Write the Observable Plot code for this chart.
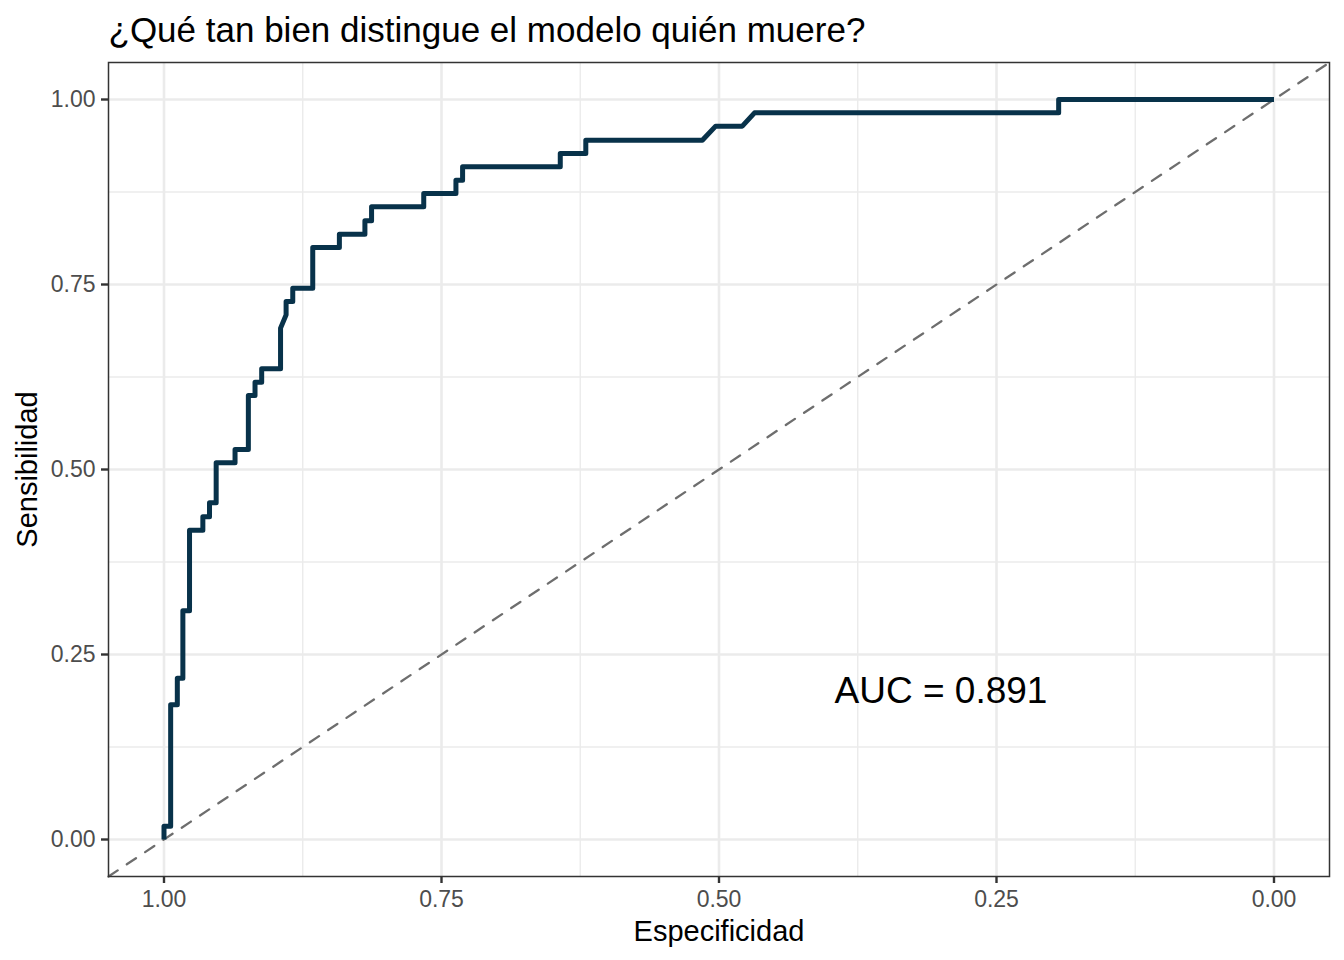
<!DOCTYPE html>
<html>
<head>
<meta charset="utf-8">
<script src="https://cdn.jsdelivr.net/npm/d3@7"></script>
<script src="https://cdn.jsdelivr.net/npm/@observablehq/plot@0.6"></script>
<style>
  html, body { margin: 0; padding: 0; background: #ffffff; }
  #chart svg { display: block; }
</style>
</head>
<body>
<div id="chart"></div>
<script>
// ROC curve vertices
const specificity = [
  1.000, 1.000, 0.994, 0.994, 0.988, 0.988, 0.983, 0.983, 0.977, 0.977,
  0.965, 0.965, 0.959, 0.959, 0.953, 0.953, 0.936, 0.936, 0.924, 0.924,
  0.918, 0.918, 0.912, 0.912, 0.895, 0.895, 0.890, 0.890, 0.884, 0.884,
  0.866, 0.866, 0.842, 0.842, 0.819, 0.819, 0.813, 0.813, 0.766, 0.766,
  0.737, 0.737, 0.731, 0.731, 0.643, 0.643, 0.620, 0.620, 0.515, 0.503,
  0.479, 0.468, 0.194, 0.194, 0.000
];
const sensitivity = [
  0.000, 0.018, 0.018, 0.182, 0.182, 0.218, 0.218, 0.309, 0.309, 0.418,
  0.418, 0.436, 0.436, 0.455, 0.455, 0.509, 0.509, 0.527, 0.527, 0.600,
  0.600, 0.618, 0.618, 0.636, 0.636, 0.691, 0.709, 0.727, 0.727, 0.745,
  0.745, 0.800, 0.800, 0.818, 0.818, 0.836, 0.836, 0.855, 0.855, 0.873,
  0.873, 0.891, 0.891, 0.909, 0.909, 0.927, 0.927, 0.945, 0.945, 0.964,
  0.964, 0.982, 0.982, 1.000, 1.000
];

const majorTicks = [0, 0.25, 0.5, 0.75, 1];
const minorTicks = [0.125, 0.375, 0.625, 0.875];
const xDomain = [1.05, -0.05];
const yDomain = [-0.05, 1.05];
const diagonalX = [1.05, -0.05];

const titleText = "¿Qué tan bien distingue el modelo quién muere?";
const xLabel = "Especificidad";
const yLabel = "Sensibilidad";
const aucLabel = ["AUC = 0.891"];
const aucPos = { x: 0.3, y: 0.2 };

const roc = specificity.map((s, i) => ({ spec: s, sens: sensitivity[i] }));
const diag = diagonalX.map(x => ({ x, y: 1 - x }));

const font = "'Liberation Sans', Arial, Helvetica, sans-serif";

const chart = Plot.plot({
  width: 1344,
  height: 960,
  marginLeft: 108,
  marginRight: 15,
  marginTop: 62,
  marginBottom: 84,
  style: { fontFamily: font, background: "#ffffff", color: "#000000" },
  x: { domain: xDomain, axis: null },
  y: { domain: yDomain, axis: null },
  marks: [
    // minor grid
    Plot.ruleX(minorTicks, { stroke: "#EBEBEB", strokeWidth: 1.4 }),
    Plot.ruleY(minorTicks, { stroke: "#EBEBEB", strokeWidth: 1.4 }),
    // major grid
    Plot.ruleX(majorTicks, { stroke: "#EBEBEB", strokeWidth: 2.6 }),
    Plot.ruleY(majorTicks, { stroke: "#EBEBEB", strokeWidth: 2.6 }),
    // diagonal reference
    Plot.line(diag, { x: "x", y: "y", stroke: "#6E6E6E", strokeWidth: 2.3, strokeDasharray: "11,11" }),
    // ROC curve
    Plot.line(roc, { x: "spec", y: "sens", stroke: "#08324A", strokeWidth: 5, strokeLinejoin: "round", strokeLinecap: "butt" }),
    // AUC annotation
    Plot.text(aucLabel, { x: () => aucPos.x, y: () => aucPos.y, text: d => d, fontSize: 37, fill: "#000000", textAnchor: "middle" }),
    // panel border
    Plot.frame({ stroke: "#333333", strokeWidth: 1.5 }),
    // axes
    Plot.axisX(majorTicks, { anchor: "bottom", tickSize: 7, tickPadding: 7, tickFormat: d3.format(".2f"), fontSize: 23, stroke: "#333333", fill: "#4D4D4D", strokeWidth: 2.4, label: null }),
    Plot.axisY(majorTicks, { anchor: "left", tickSize: 7, tickPadding: 6, tickFormat: d3.format(".2f"), fontSize: 23, stroke: "#333333", fill: "#4D4D4D", strokeWidth: 2.4, label: null }),
    // axis titles
    Plot.text([xLabel], { frameAnchor: "bottom", text: d => d, textAnchor: "middle", lineAnchor: "bottom", dy: 64, fontSize: 29, fill: "#000000" }),
    Plot.text([yLabel], { frameAnchor: "left", text: d => d, rotate: -90, textAnchor: "middle", lineAnchor: "bottom", dx: -72, fontSize: 29, fill: "#000000" }),
    // title
    Plot.text([titleText], { frameAnchor: "top-left", text: d => d, textAnchor: "start", lineAnchor: "bottom", dy: -21, fontSize: 35, fill: "#000000" })
  ]
});

document.getElementById("chart").appendChild(chart);
</script>
</body>
</html>
